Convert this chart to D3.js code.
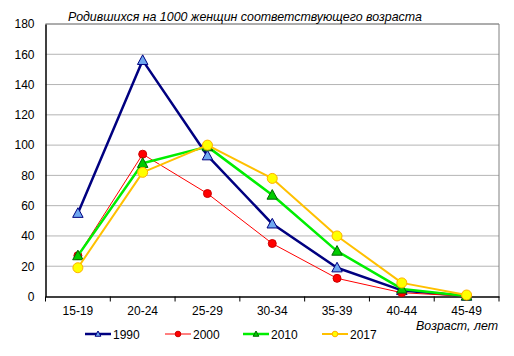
<!DOCTYPE html>
<html><head><meta charset="utf-8">
<script src="https://cdn.jsdelivr.net/npm/d3@7"></script>
<style>body{margin:0;background:#fff;}svg{display:block;font-family:Arial,"Liberation Sans",sans-serif;}</style>
</head><body>
<svg id="c" width="514" height="356"></svg>
<script>
const categories = ["15-19","20-24","25-29","30-34","35-39","40-44","45-49"];
const years = ["1990","2000","2010","2017"];
const v1990 = [55, 156, 93, 48, 19, 4, 0.3];
const v2000 = [27, 94, 68, 35, 12, 2.5, 0.2];
const v2010 = [27, 88, 99, 67, 30, 5, 0.4];
const v2017 = [19, 82, 100, 78, 40, 9, 1];
const yTicks = [0,20,40,60,80,100,120,140,160,180];
const titleText = "Родившихся на 1000 женщин соответствующего возраста";
const xTitle = "Возраст, лет";

const series = [
  {name: years[0], values: v1990, line: "#000080", width: 2.5, marker: "tri", fill: "#6fa8f0", stroke: "#000080", r: 5.5},
  {name: years[1], values: v2000, line: "#ff0000", width: 1, marker: "circ", fill: "#ff0000", stroke: "#cc0000", r: 4},
  {name: years[2], values: v2010, line: "#00ee00", width: 2.5, marker: "tri", fill: "#00cc00", stroke: "#006600", r: 5.5},
  {name: years[3], values: v2017, line: "#ffc000", width: 2, marker: "circ", fill: "#ffff00", stroke: "#ffb000", r: 5}
];

const svg = d3.select("#c");
const L = 45.5, R = 499, T = 24, B = 296.5;
const x = d3.scaleBand().domain(categories).range([L, R]);
const y = d3.scaleLinear().domain([0, 180]).range([B, T]);

// gridlines
svg.append("g").selectAll("line").data(yTicks.filter(d => d > 0)).join("line")
  .attr("x1", L).attr("x2", R).attr("y1", d => y(d)).attr("y2", d => y(d))
  .attr("stroke", "#b4b4b4").attr("stroke-width", 1);
// border top/right
svg.append("path").attr("d", `M${L},${T}H${R}V${B}`).attr("fill", "none").attr("stroke", "#808080").attr("stroke-width", 1);

// y axis
const ya = svg.append("g").attr("transform", `translate(${L},0)`)
  .call(d3.axisLeft(y).tickValues(yTicks).tickSize(0).tickPadding(11));
ya.select(".domain").attr("stroke", "#000").attr("stroke-width", 1.5);
ya.selectAll("text").attr("font-size", 12).attr("fill", "#000").attr("font-family", "Arial, 'Liberation Sans', sans-serif");

// x axis
const xa = svg.append("g").attr("transform", `translate(0,${B})`)
  .call(d3.axisBottom(x).tickSize(0).tickPadding(10));
xa.select(".domain").attr("stroke", "#000").attr("stroke-width", 1.5);
xa.selectAll("text").attr("font-size", 12).attr("fill", "#000").attr("font-family", "Arial, 'Liberation Sans', sans-serif");
// boundary ticks
const bounds = categories.map(c => x(c)).concat([R]);
svg.append("g").selectAll("line").data(bounds).join("line")
  .attr("x1", d => d).attr("x2", d => d).attr("y1", B).attr("y2", B + 5)
  .attr("stroke", "#000").attr("stroke-width", 1);

const cx = c => x(c) + x.bandwidth() / 2;
const line = d3.line().x((d, i) => cx(categories[i])).y(d => y(d));
const triPath = r => `M0,${-r}L${r*0.95},${r*0.75}L${-r*0.95},${r*0.75}Z`;

function drawMarker(g, s, px, py, r) {
  if (s.marker === "tri") {
    g.append("path").attr("d", triPath(r)).attr("transform", `translate(${px},${py})`)
      .attr("fill", s.fill).attr("stroke", s.stroke).attr("stroke-width", 1);
  } else {
    g.append("circle").attr("cx", px).attr("cy", py).attr("r", r)
      .attr("fill", s.fill).attr("stroke", s.stroke).attr("stroke-width", 1);
  }
}

series.forEach(s => {
  const g = svg.append("g");
  g.append("path").datum(s.values).attr("d", line).attr("fill", "none")
    .attr("stroke", s.line).attr("stroke-width", s.width).attr("stroke-linejoin", "round");
  s.values.forEach((v, i) => drawMarker(g, s, cx(categories[i]), y(v), s.r));
});

// title
svg.append("text").attr("x", 68).attr("y", 21).attr("font-size", 12.4).attr("font-style", "italic")
  .attr("fill", "#000").text(titleText);
// x title
svg.append("text").attr("x", 498).attr("y", 330).attr("text-anchor", "end").attr("font-size", 12.4)
  .attr("font-style", "italic").attr("fill", "#000").text(xTitle);

// legend
const legX = [85, 165, 243, 322];
series.forEach((s, i) => {
  const g = svg.append("g");
  const x0 = legX[i], ly = 334;
  g.append("line").attr("x1", x0).attr("x2", x0 + 26).attr("y1", ly).attr("y2", ly)
    .attr("stroke", s.line).attr("stroke-width", s.width);
  drawMarker(g, s, x0 + 13, ly, s.marker === "tri" ? 3 : 2.8);
  g.append("text").attr("x", x0 + 28).attr("y", ly + 4.5).attr("font-size", 12).attr("fill", "#000").text(s.name);
});
</script>
</body></html>
